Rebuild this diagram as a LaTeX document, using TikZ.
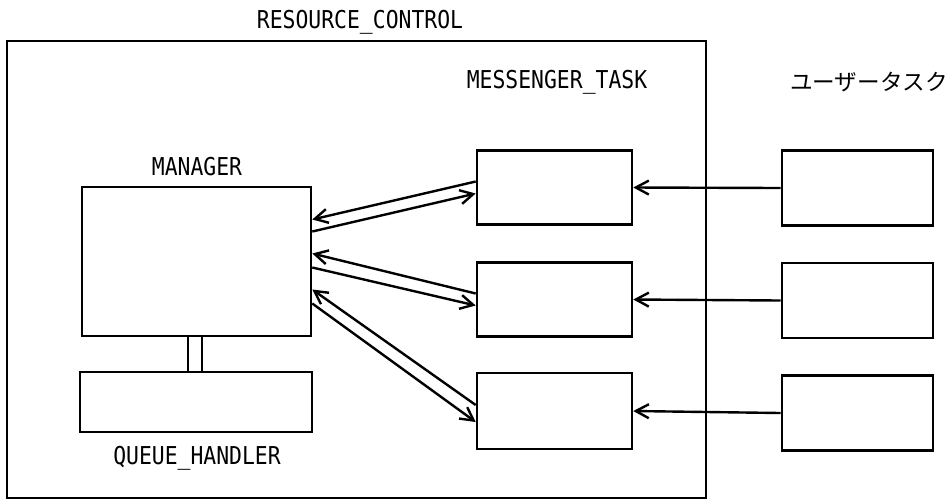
\documentclass[tikz,border=0pt]{standalone}
\usepackage{fontspec}
\usetikzlibrary{arrows.meta}
\newfontfamily\plotfont{DejaVu Sans Mono}
\newfontfamily\cjkfont{Noto Sans CJK JP}
% plotter lettering is a little taller than the mono font
\newcommand{\plottext}[1]{\scalebox{1}[1.15]{#1}}
\tikzset{
  blk/.style={draw,line width=1.3pt,inner sep=0pt},
  msgbox/.style={blk,minimum width=77.5pt,minimum height=37pt},
  userbox/.style={blk,minimum width=75.5pt,minimum height=37.5pt},
  lbl/.style={font=\plotfont\fontsize{10.7}{12}\selectfont,inner sep=0pt},
  flow/.style={line width=1.2pt,-{Straight Barb[length=6.5pt,width=7pt,line width=1.2pt]}}
}
\begin{document}
\begin{tikzpicture}[x=0.5pt,y=-0.5pt]
      \useasboundingbox (0,0) rectangle (952,500);
      % outer frame
      \draw[line width=1.3pt] (7,41) rectangle (706,498);
      \node[lbl] (rclabel) at (360,22) {\plottext{RESOURCE\_CONTROL}};
      % manager and queue handler
      \node[blk,minimum width=114.5pt,minimum height=74.5pt] (mgr) at (196.5,261.5) {};
      \node[lbl] (mgrlabel) at (197,167) {\plottext{MANAGER}};
      \node[blk,minimum width=116pt,minimum height=30pt] (queue) at (196,402) {};
      \node[lbl] (queuelabel) at (197,458) {\plottext{QUEUE\_HANDLER}};
      \draw[line width=1.2pt] ([xshift=-4.25pt]mgr.south) -- ([xshift=-4.25pt]mgr.south |- queue.north);
      \draw[line width=1.2pt] ([xshift=2.75pt]mgr.south) -- ([xshift=2.75pt]mgr.south |- queue.north);
      % messenger tasks and user tasks
      \node[lbl] (msglabel) at (557,82) {\plottext{MESSENGER\_TASK}};
      \node[lbl,font=\cjkfont\fontsize{11.3}{13}\selectfont] (userlabel) at (869,82) {ユーザータスク};
      \node[msgbox] (msg1) at (554.5,187.5) {};
      \node[msgbox] (msg2) at (554.5,299.5) {};
      \node[msgbox,minimum height=38pt] (msg3) at (554.5,411) {};
      \node[userbox] (user1) at (857.5,188) {};
      \node[userbox] (user2) at (857.5,300.5) {};
      \node[userbox] (user3) at (857.5,413) {};
      \draw[flow] (user1.west) -- (msg1.east);
      \draw[flow] (user2.west) -- (msg2.east);
      \draw[flow] (user3.west) -- (msg3.east);
      % requests and replies between manager and messengers
      \draw[flow] ([yshift=3pt]msg1.west) -- ([yshift=21pt]mgr.east);
      \draw[flow] ([yshift=15pt]mgr.east) -- ([yshift=-3pt]msg1.west);
      \draw[flow] ([yshift=3pt]msg2.west) -- ([yshift=4pt]mgr.east);
      \draw[flow] ([yshift=-3pt]mgr.east) -- ([yshift=-3pt]msg2.west);
      \draw[flow] ([yshift=3pt]msg3.west) -- ([yshift=-14pt]mgr.east);
      \draw[flow] ([yshift=-21pt]mgr.east) -- ([yshift=-5.5pt]msg3.west);
    \end{tikzpicture}
\end{document}
